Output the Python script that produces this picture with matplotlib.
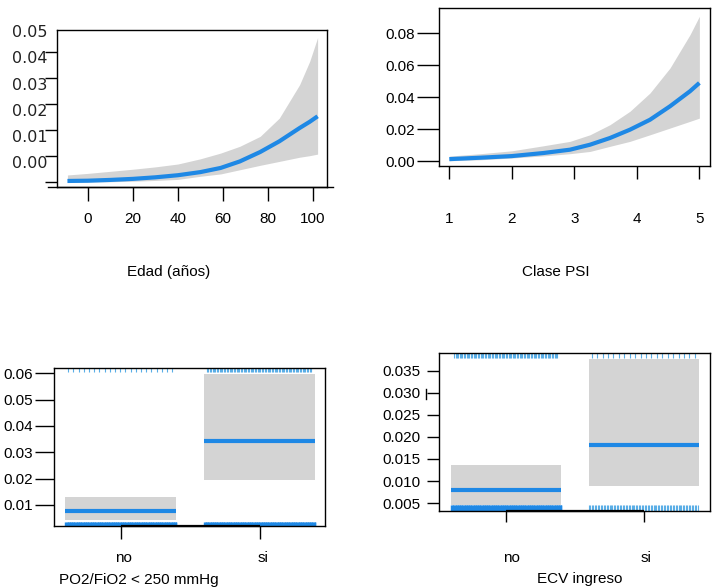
import numpy as np
import matplotlib
matplotlib.use("Agg")
import matplotlib.pyplot as plt
from matplotlib.lines import Line2D
from matplotlib.transforms import ScaledTranslation

plt.rcParams['font.family'] = ['Liberation Sans', 'DejaVu Sans']
plt.rcParams['font.size'] = 11

# --- effect of age ---
edad = [-9, 0, 10, 20, 30, 40, 50, 59, 67.5, 76.5, 85, 94, 98.5, 102]
edad_fit = [0.0005, 0.0006, 0.0009, 0.0013, 0.0019, 0.0027, 0.0039, 0.0055, 0.0080, 0.0116, 0.0157, 0.0208, 0.0232, 0.0253]
edad_upper = [0.0028, 0.0034, 0.0042, 0.0050, 0.0059, 0.0070, 0.0090, 0.0112, 0.0138, 0.0176, 0.0246, 0.0374, 0.0464, 0.0555]
edad_lower = [0.0000, 0.0001, 0.0002, 0.0004, 0.0007, 0.0011, 0.0023, 0.0032, 0.0048, 0.0065, 0.0080, 0.0096, 0.0102, 0.0108]

# --- effect of PSI class ---
psi = [1, 1.5, 2, 2.5, 2.93, 3.25, 3.57, 3.89, 4.21, 4.53, 4.85, 5]
psi_fit = [0.0014, 0.0023, 0.0033, 0.0052, 0.0073, 0.0104, 0.0146, 0.0198, 0.0260, 0.0344, 0.0438, 0.0490]
psi_upper = [0.0033, 0.0048, 0.0066, 0.0097, 0.0125, 0.0166, 0.0229, 0.0313, 0.0427, 0.0583, 0.0791, 0.0906]
psi_lower = [0.0004, 0.0010, 0.0021, 0.0034, 0.0048, 0.0062, 0.0094, 0.0125, 0.0166, 0.0208, 0.0250, 0.0270]

# --- factor effects ---
niveles = ["no", "si"]
po2_fit = [0.0077, 0.0341]
po2_lower = [0.0042, 0.0193]
po2_upper = [0.0132, 0.0597]
po2_rug_top = [21, 75]       # number of rug ticks per level
po2_rug_bottom = [160, 160]

ecv_fit = [0.0079, 0.0182]
ecv_lower = [0.0045, 0.0089]
ecv_upper = [0.0137, 0.0377]
ecv_rug_top = [75, 20]
ecv_rug_bottom = [160, 75]

BLUE = '#1E88E5'
RUG = '#5AAEE6'
BAND = '#D4D4D4'
W, H = 712, 588

fig = plt.figure(figsize=(W / 100, H / 100), dpi=100)


def px_axes(left, top, right, bottom):
    return fig.add_axes([left / W, 1 - bottom / H, (right - left) / W, (bottom - top) / H])


def style(ax, ylen, xlen):
    for s in ax.spines.values():
        s.set_linewidth(1.0)
    ax.tick_params(axis='y', length=ylen, width=1.0, labelsize=11)
    ax.tick_params(axis='x', length=xlen, width=1.0, labelsize=11)


# top left: age
ax1 = px_axes(57.3, 30, 327.3, 186.7)
ax1.fill_between(edad, edad_lower, edad_upper, color=BAND, lw=0)
ax1.plot(edad, edad_fit, color=BLUE, lw=3, solid_capstyle='butt')
ax1.set_xlim(-13.5, 106.3)
ax1.set_ylim(-0.0017, 0.0584)
ax1.set_xticks([0, 20, 40, 60, 80, 100])
ax1.set_yticks([0, 0.01, 0.02, 0.03, 0.04, 0.05])
ax1.set_yticklabels([])
style(ax1, 9, 10)
ax1.tick_params(axis='x', pad=8)
# y labels sit a bit above their ticks
off = ax1.get_yaxis_transform() + ScaledTranslation(-0.095, 0.19, fig.dpi_scale_trans)
for v in [0, 0.01, 0.02, 0.03, 0.04, 0.05]:
    ax1.text(0, v, f"{v:.2f}", transform=off, ha='right', va='center',
             fontsize=11.5, family='DejaVu Sans', color='#222222')
ax1.plot([-0.034, 1.021], [0, 0], transform=ax1.transAxes, color='black', lw=1.0, clip_on=False)
fig.text(169 / W, 1 - 272 / H, "Edad (años)", ha='center', va='center', fontsize=11)

# top right: PSI class
ax2 = px_axes(439.3, 8.3, 710, 165.7)
ax2.fill_between(psi, psi_lower, psi_upper, color=BAND, lw=0)
ax2.plot(psi, psi_fit, color=BLUE, lw=3, solid_capstyle='butt')
ax2.set_xlim(0.84, 5.17)
ax2.set_ylim(-0.0027, 0.0956)
ax2.set_xticks([1, 2, 3, 4, 5])
ax2.set_yticks([0, 0.02, 0.04, 0.06, 0.08])
ax2.set_yticklabels([f"{v:.2f}" for v in [0, 0.02, 0.04, 0.06, 0.08]])
style(ax2, 16, 9)
ax2.tick_params(axis='y', pad=1.5)
ax2.tick_params(axis='x', pad=24)
fig.text(556 / W, 1 - 272 / H, "Clase PSI", ha='center', va='center', fontsize=11)


def factor_panel(ax, fit, lower, upper, rug_top, rug_bottom, top_y, bottom_y):
    xs = np.arange(len(niveles))
    for i in xs:
        ax.fill_between([i - 0.4, i + 0.4], lower[i], upper[i], color=BAND, lw=0)
        ax.plot([i - 0.4, i + 0.4], [fit[i], fit[i]], color=BLUE, lw=3, solid_capstyle='butt')
        # rug marks along the top and bottom
        ax.vlines(np.linspace(i - 0.38, i + 0.37, rug_top[i]), top_y[0], top_y[1],
                  color=RUG, lw=0.8)
        n = rug_bottom[i]
        if n > 100:
            ax.vlines(np.linspace(i - 0.4, i + 0.4, n), bottom_y[0], bottom_y[1],
                      color=BLUE, lw=1.0)
        else:
            ax.vlines(np.linspace(i - 0.4, i + 0.39, n), bottom_y[0], bottom_y[1],
                      color=RUG, lw=0.8)
    ax.set_xticks(xs)
    ax.set_xticklabels([])
    ylo = ax.get_ylim()[0]
    ax.plot([0, 1], [ylo, ylo], color='black', lw=1.6, clip_on=False, solid_capstyle='butt')


# bottom left: PO2/FiO2
ax3 = px_axes(54.3, 368.3, 325, 526)
ax3.set_xlim(-0.48, 1.47)
ax3.set_ylim(0.0020, 0.0619)
factor_panel(ax3, po2_fit, po2_lower, po2_upper, po2_rug_top, po2_rug_bottom,
             (0.0604, 0.0619), (0.0021, 0.0037))
ax3.set_yticks([0.01, 0.02, 0.03, 0.04, 0.05, 0.06])
ax3.set_yticklabels([f"{v:.2f}" for v in [0.01, 0.02, 0.03, 0.04, 0.05, 0.06]])
style(ax3, 14, 9)
ax3.tick_params(axis='y', pad=1)
for i, lab in enumerate(niveles):
    fig.text([123, 263][i] / W, 1 - 558 / H, lab, ha='center', va='center', fontsize=11)
fig.text(138.5 / W, 1 - 580 / H, "PO2/FiO2 < 250 mmHg", ha='center', va='center', fontsize=11)

# bottom right: ECV at admission
ax4 = px_axes(439, 353.3, 710, 510.7)
ax4.set_xlim(-0.49, 1.48)
ax4.set_ylim(0.0033, 0.0389)
factor_panel(ax4, ecv_fit, ecv_lower, ecv_upper, ecv_rug_top, ecv_rug_bottom,
             (0.0378, 0.0389), (0.0033, 0.0045))
ecv_ticks = [0.005, 0.010, 0.015, 0.020, 0.025, 0.030, 0.035]
ax4.set_yticks(ecv_ticks)
ax4.set_yticklabels([f"{v:.3f}" for v in ecv_ticks])
style(ax4, 9, 8)
ax4.tick_params(axis='y', pad=4)
for i, lab in enumerate(niveles):
    fig.text([511, 646][i] / W, 1 - 558 / H, lab, ha='center', va='center', fontsize=11)
fig.text(579.5 / W, 1 - 579 / H, "ECV ingreso", ha='center', va='center', fontsize=11)
fig.add_artist(Line2D([426 / W, 426 / W], [1 - 389 / H, 1 - 399 / H], color='black', lw=1.0))

fig.savefig("out.png", dpi=100)
